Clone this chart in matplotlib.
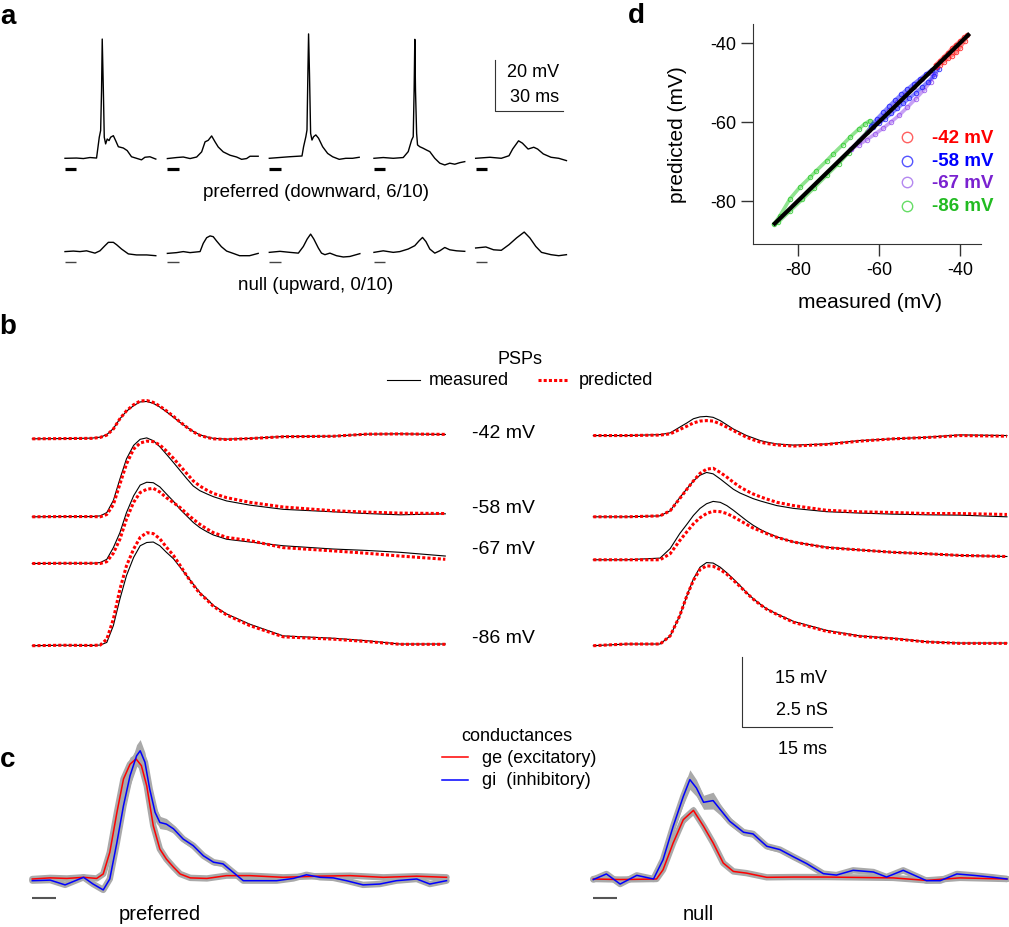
import numpy as np
import matplotlib
matplotlib.use("Agg")
import matplotlib.pyplot as plt
from matplotlib.lines import Line2D

plt.rcParams['font.family'] = ['Liberation Sans', 'DejaVu Sans']
plt.rcParams['axes.unicode_minus'] = False

W, H = 1009, 928

# ---- panel a: single trials (time in ms, Vm in mV relative to baseline)
pref1_t = [0, 5.1, 8.1, 11.0, 13.9, 15.1, 15.7, 16.1, 16.4, 16.9, 17.3, 17.9, 18.6, 19.4, 20.1, 21.3, 22.3, 23.5, 25.7, 27.4, 29.3, 31.5, 33.7, 35.2, 37.4, 40.0]
pref1_mv = [0, 0.1, -0.1, 0.3, 0.1, 8.2, 10.8, 26.3, 46.4, 26.3, 8.2, 5.6, 7.5, 6.9, 8.2, 8.8, 6.9, 4.5, 4.0, 3.0, 0.6, 0.0, -0.6, 0.4, 0.6, -0.3]
pref2_t = [0, 4.1, 7.0, 10.0, 12.9, 15.1, 16.6, 18.0, 19.5, 21.0, 22.4, 24.6, 27.6, 30.5, 32.7, 34.9, 36.4, 40.0]
pref2_mv = [-0.1, 0.3, 0.5, -0.1, 0.5, 2.5, 6.4, 7.0, 8.7, 6.4, 4.4, 2.5, 1.2, 0.5, -0.4, -0.1, 0.8, 0.8]
pref3_t = [0, 4.4, 8.8, 14.4, 15.1, 16.1, 16.6, 17.0, 17.3, 17.7, 18.2, 18.8, 19.5, 20.5, 21.7, 23.5, 25.7, 27.9, 30.8, 33.7, 36.7, 39.6]
pref3_mv = [0, 0.3, 0.6, 0.9, 4.5, 8.4, 11.0, 33.1, 48.4, 33.1, 9.7, 7.1, 8.4, 9.1, 7.8, 4.5, 1.9, 0.6, -0.4, 0, 0, 0.4]
pref4_t = [0, 4.1, 8.5, 12.9, 15.1, 16.6, 17.3, 17.7, 18.0, 18.3, 18.8, 19.2, 20.2, 21.7, 23.2, 24.6, 26.8, 29.0, 31.2, 33.4, 35.6, 37.8, 40.0]
pref4_mv = [0, 0.3, 0, 0.3, 2.6, 7.1, 8.4, 26.6, 46.3, 26.6, 9.7, 5.2, 4.5, 3.9, 3.2, 2.6, 0, -1.9, -2.6, -1.9, -2.3, -1.7, -1.3]
pref5_t = [0, 6.3, 11.3, 14.7, 16.3, 18.9, 20.6, 23.1, 25.6, 27.3, 29.8, 33.2, 36.6, 40.0]
pref5_mv = [0, 0.4, 0, 1.0, 3.6, 6.8, 5.9, 3.6, 4.3, 3.6, 1.7, 0.4, 0, -0.9]

null1_t = [0, 3.7, 6.6, 9.5, 13.2, 15.4, 17.6, 19.1, 21.3, 22.7, 24.9, 27.9, 31.5, 36.0, 40.0]
null1_mv = [0.3, 0.5, 0.3, 0.6, -0.3, 0.6, 2.6, 3.9, 3.9, 3.0, 1.3, -0.6, -1.0, -1.0, -1.3]
null2_t = [0, 4.1, 7.0, 10.0, 14.4, 15.8, 17.3, 18.8, 20.2, 21.7, 23.8, 26.1, 29.0, 31.8, 36.2, 40.0]
null2_mv = [-0.4, -0.1, 0.3, -0.1, 0.3, 3.5, 5.7, 6.4, 6.1, 4.4, 2.2, 0.5, -0.4, -1.3, -1.3, -0.4]
null3_t = [0, 4.7, 9.1, 12.8, 15.0, 16.7, 18.2, 19.6, 21.6, 23.0, 24.5, 26.7, 29.6, 32.6, 35.5, 39.9]
null3_mv = [0, 0.4, 0, -0.3, 2.3, 5.2, 7.1, 5.2, 1.7, -0.3, -0.9, -0.3, -1.3, -1.8, -1.6, -0.5]
null4_t = [0, 4.1, 8.5, 11.4, 15.1, 18.0, 19.9, 21.4, 22.9, 24.6, 26.8, 29.0, 31.2, 33.4, 36.4, 40.0]
null4_mv = [0, 0.6, 0, 0.3, 1.3, 2.6, 4.5, 5.8, 4.2, 1.3, -0.3, 0.6, 1.9, 1.0, 0.6, 0.4]
null5_t = [0, 4.5, 7.9, 11.3, 14.7, 18.0, 21.4, 23.9, 26.5, 29.0, 33.2, 36.6, 40.0]
null5_mv = [1.7, 2.1, 1.0, 0.8, 3.0, 5.6, 7.9, 5.6, 2.3, 0, -0.9, -1.3, -0.9]

stim_a_ms = 5

# ---- panel b: measured / predicted PSPs (mV relative to baseline)
holding_labels = ['-42 mV', '-58 mV', '-67 mV', '-86 mV']

tB_left = [0, 5, 10, 11.4, 12.5, 13.6, 14.7, 15.8, 17.0, 18.1, 19.2, 20.3, 21.4, 22.5, 23.7, 24.8, 25.9, 27.0, 28.1, 29.3, 30.4, 32.6, 36.5, 42.1, 50.5, 56.1, 61.7, 69.3]
L42_meas = [0, 0.05, 0.15, 0.36, 0.9, 2.2, 4.3, 5.9, 7.1, 7.9, 8.0, 7.6, 6.8, 5.8, 4.6, 3.5, 2.5, 1.6, 0.86, 0.4, 0.1, -0.07, 0.1, 0.5, 0.57, 1.0, 1.07, 0.93]
L42_pred = [0, 0.05, 0.1, 0.3, 0.8, 2.1, 4.3, 6.0, 7.3, 8.1, 8.2, 7.8, 7.0, 6.0, 4.8, 3.6, 2.5, 1.5, 0.75, 0.3, 0.0, -0.15, 0.05, 0.45, 0.55, 1.0, 1.05, 0.95]
L58_meas = [0, 0.05, 0.05, 0.2, 0.9, 3.5, 8.1, 12.4, 15.3, 16.6, 16.9, 16.3, 15.0, 13.4, 11.6, 9.9, 8.2, 6.6, 5.6, 4.9, 4.3, 3.4, 2.5, 1.6, 1.07, 0.7, 0.43, 0.64]
L58_pred = [0, 0.05, 0.05, 0.0, 0.5, 2.6, 7.0, 11.3, 14.5, 15.8, 16.2, 16.1, 15.4, 14.1, 12.5, 10.9, 9.3, 7.7, 6.6, 5.7, 5.0, 4.1, 3.1, 2.1, 1.3, 1.0, 0.8, 0.7]
L67_meas = [0, 0.05, 0.05, 0.2, 0.9, 3.4, 6.6, 10.9, 14.5, 16.8, 17.4, 17.3, 16.4, 14.9, 13.3, 11.6, 10.2, 8.8, 7.7, 6.8, 6.1, 5.2, 4.6, 3.8, 3.1, 2.8, 2.4, 1.6]
L67_pred = [0, 0.05, 0.05, 0.0, 0.4, 2.2, 5.2, 9.5, 13.1, 15.2, 15.9, 16.1, 15.3, 14.1, 13.0, 12.0, 10.7, 9.5, 8.4, 7.4, 6.6, 5.6, 4.9, 3.4, 2.7, 2.2, 1.6, 0.9]
L86_meas = [0, 0.1, 0.05, 0.14, 0.7, 4.3, 10.0, 15.0, 18.9, 21.4, 22.1, 22.2, 21.4, 20.0, 18.6, 16.8, 15.0, 13.2, 11.4, 10.0, 8.6, 6.8, 4.6, 2.1, 1.6, 1.07, 0.36, 0.36]
L86_pred = [0, 0.1, 0.05, 0.14, 1.4, 5.7, 12.1, 17.1, 20.7, 23.2, 24.2, 24.0, 22.9, 21.1, 19.3, 17.2, 15.0, 13.0, 11.2, 9.8, 8.4, 6.6, 4.3, 1.9, 1.4, 0.9, 0.3, 0.3]

tB_right = [0, 5.6, 11.2, 12.9, 14.5, 15.7, 16.8, 17.9, 19.0, 20.1, 21.3, 22.4, 23.5, 24.6, 25.7, 26.8, 28.0, 29.1, 30.8, 33.6, 39.1, 44.7, 50.3, 55.9, 61.5, 69.4]
R42_meas = [0, 0, 0.2, 0.57, 1.8, 2.7, 3.6, 4.0, 4.1, 3.9, 3.2, 2.3, 1.4, 0.7, 0.0, -0.5, -1.07, -1.4, -1.8, -2.05, -1.8, -1.07, -0.7, -0.36, 0.14, 0.0]
R42_pred = [0, 0, 0.1, 0.36, 1.3, 2.0, 2.7, 3.1, 3.2, 3.1, 2.5, 1.8, 1.07, 0.35, -0.36, -0.9, -1.4, -1.7, -2.0, -2.25, -1.9, -1.2, -0.7, -0.43, 0.0, -0.14]
R58_meas = [0, 0, 0.2, 1.3, 4.1, 6.0, 7.7, 8.9, 9.5, 9.2, 8.1, 7.0, 5.9, 5.1, 4.5, 3.9, 3.4, 3.0, 2.4, 1.8, 1.1, 0.8, 0.57, 0.43, 0.36, 0.0]
R58_pred = [0, 0, 0.2, 1.3, 3.9, 5.9, 7.7, 9.3, 10.2, 10.4, 9.5, 8.5, 7.4, 6.4, 5.6, 4.9, 4.3, 3.8, 3.1, 2.4, 1.4, 1.07, 0.93, 0.7, 0.7, 0.5]
R67_meas = [0, 0, 0.36, 2.4, 5.6, 7.6, 9.5, 11.0, 12.0, 12.5, 12.3, 11.6, 10.6, 9.5, 8.4, 7.4, 6.5, 5.8, 4.9, 3.8, 2.7, 2.1, 1.6, 1.3, 0.93, 0.7]
R67_pred = [0, 0, 0.0, 1.3, 4.1, 6.0, 7.7, 9.0, 9.9, 10.4, 10.3, 9.9, 9.2, 8.4, 7.6, 6.8, 6.2, 5.6, 4.8, 3.8, 2.6, 2.1, 1.6, 1.3, 0.93, 0.7]
R86_meas = [0, 0.36, 0.36, 2.1, 6.4, 10.7, 14.3, 16.8, 17.8, 17.7, 16.8, 15.6, 14.3, 12.9, 11.4, 10.1, 8.9, 7.9, 6.8, 5.2, 3.3, 2.1, 1.6, 0.86, 0.57, 0.57]
R86_pred = [0, 0.36, 0.36, 2.1, 6.4, 10.7, 14.0, 16.3, 17.1, 17.0, 16.3, 15.3, 14.0, 12.7, 11.3, 10.0, 8.8, 7.8, 6.7, 5.0, 3.1, 2.0, 1.5, 0.8, 0.5, 0.5]

# ---- panel c: conductances (nS) with SEM
ge_pref_t = [0, 3.0, 5.8, 8.6, 10.8, 11.9, 13.0, 14.2, 15.3, 16.4, 17.4, 18.3, 19.2, 20.3, 21.4, 22.5, 23.7, 24.8, 26.5, 29.3, 32.6, 36.5, 42.1, 47.7, 53.3, 58.9, 64.5, 69.5]
ge_pref = [0, 0.04, 0.02, 0.06, 0.02, 0.18, 0.95, 2.38, 3.57, 4.1, 4.29, 4.05, 3.33, 1.9, 1.07, 0.71, 0.42, 0.18, 0.04, 0.02, 0.12, 0.12, 0.06, 0.1, 0.12, 0.06, 0.1, 0.06]
ge_pref_sem = [0.03, 0.03, 0.03, 0.03, 0.03, 0.05, 0.12, 0.2, 0.25, 0.25, 0.22, 0.2, 0.18, 0.15, 0.12, 0.1, 0.08, 0.05, 0.03, 0.03, 0.03, 0.03, 0.03, 0.03, 0.03, 0.03, 0.03, 0.03]
gi_pref_t = [0, 3.0, 5.5, 8.6, 10.2, 11.9, 13.0, 14.2, 15.3, 16.4, 17.5, 18.1, 18.9, 19.7, 20.6, 21.4, 22.5, 23.7, 25.3, 27.0, 28.7, 30.4, 32.0, 33.7, 35.4, 38.2, 41.0, 43.8, 46.0, 48.3, 50.5, 52.7, 55.5, 58.3, 61.1, 64.5, 66.7, 69.5]
gi_pref = [-0.06, -0.04, -0.21, 0.06, -0.18, -0.39, 0.0, 1.31, 2.62, 3.69, 4.4, 4.58, 4.17, 3.21, 2.38, 2.02, 1.96, 1.79, 1.43, 1.19, 0.83, 0.6, 0.54, 0.24, -0.06, -0.06, -0.06, 0.02, 0.15, 0.06, 0.04, -0.06, -0.21, -0.18, -0.06, 0.0, -0.18, -0.06]
gi_pref_sem = [0.05, 0.05, 0.05, 0.05, 0.05, 0.05, 0.1, 0.2, 0.3, 0.35, 0.4, 0.4, 0.35, 0.3, 0.25, 0.22, 0.2, 0.15, 0.12, 0.12, 0.1, 0.1, 0.08, 0.08, 0.06, 0.05, 0.05, 0.05, 0.05, 0.05, 0.05, 0.05, 0.05, 0.05, 0.05, 0.05, 0.05, 0.05]
ge_null_t = [0, 4.5, 10.6, 11.7, 13.4, 15.1, 16.8, 18.5, 20.1, 21.8, 23.5, 25.7, 29.1, 33.6, 39.1, 50.3, 55.9, 61.5, 69.4]
ge_null = [0, -0.02, 0, 0.33, 1.29, 2.12, 2.45, 1.88, 1.29, 0.57, 0.27, 0.21, 0.06, 0.07, 0.07, 0.04, -0.05, 0.04, 0]
ge_null_sem = [0.04, 0.04, 0.04, 0.06, 0.12, 0.15, 0.15, 0.12, 0.12, 0.08, 0.06, 0.05, 0.04, 0.04, 0.04, 0.04, 0.04, 0.04, 0.04]
gi_null_t = [0, 2.2, 4.5, 7.3, 10.1, 11.7, 13.4, 15.1, 16.2, 17.3, 18.5, 20.1, 21.3, 22.9, 25.2, 26.8, 29.1, 31.3, 33.6, 35.8, 38.6, 40.8, 43.6, 47.0, 49.2, 52.0, 55.9, 58.2, 61.0, 63.8, 67.1, 69.4]
gi_null = [-0.02, 0.18, -0.18, 0.13, 0.0, 0.69, 1.88, 2.95, 3.55, 3.25, 2.74, 2.8, 2.48, 2.06, 1.67, 1.61, 1.17, 1.05, 0.79, 0.55, 0.19, 0.14, 0.31, 0.25, 0.07, 0.31, -0.06, -0.06, 0.18, 0.13, 0.06, 0.0]
gi_null_sem = [0.05, 0.05, 0.05, 0.05, 0.05, 0.1, 0.2, 0.3, 0.35, 0.3, 0.25, 0.3, 0.2, 0.15, 0.12, 0.12, 0.1, 0.1, 0.1, 0.08, 0.06, 0.06, 0.06, 0.06, 0.06, 0.06, 0.06, 0.06, 0.05, 0.05, 0.05, 0.05]
stim_c_ms = 4

# ---- panel d: predicted vs measured Vm (mV)
d_red_meas = [-46, -45, -44, -43, -42, -41, -40, -39, -38.2, -38.8, -40, -41, -42, -43, -44, -45, -46]
d_red_pred = [-45.5, -44.5, -43.5, -42.5, -41.4, -40.4, -39.5, -38.6, -38.0, -39.4, -41.2, -42.4, -43.2, -43.9, -44.8, -45.6, -46.2]
d_blue_meas = [-62, -60.5, -59, -57.5, -56, -54.5, -53, -51.5, -50, -48.5, -47, -45.8, -45.3, -46.5, -48, -49.5, -51, -52.5, -54, -55.5, -57, -58.5, -60, -61.5]
d_blue_pred = [-61, -59.2, -57.6, -56.0, -54.5, -53.0, -51.7, -50.4, -49.2, -48.0, -46.8, -46.2, -46.6, -48.3, -49.9, -51.3, -52.7, -54.0, -55.3, -56.6, -57.9, -59.2, -60.3, -61.2]
d_purple_meas = [-67, -65, -63, -61, -59, -57, -55, -53, -51, -49, -47.3, -46.3, -47.5, -49.5, -51.5, -53.5, -55.5, -57.5, -60, -62.5, -65, -67]
d_purple_pred = [-67, -65.8, -64.5, -63.1, -61.6, -60, -58.3, -56.3, -54.2, -52.0, -49.8, -48.0, -47.6, -49.2, -51.2, -53.1, -55.1, -57.1, -59.6, -62.2, -64.8, -67]
d_green_meas = [-86, -84.5, -82, -79.6, -77, -75.5, -73, -71.3, -69, -67.2, -65, -63.5, -62.3, -61.6, -63, -65, -67.5, -70, -73, -76, -79, -82, -85]
d_green_pred = [-86, -83.8, -79.5, -76.6, -74, -72.4, -69.9, -68.1, -65.8, -63.9, -61.8, -60.5, -59.7, -60.5, -62.6, -64.8, -67.8, -70.6, -73.6, -76.7, -79.7, -82.6, -85.5]
d_unity = [-85.8, -38.0]


fig = plt.figure(figsize=(W / 100, H / 100), dpi=100)


def overlay(px0, py0, sx, sy):
    # transparent axes over the whole figure; data (0, 0) sits at pixel (px0, py0)
    ax = fig.add_axes([0, 0, 1, 1])
    ax.set_xlim(-px0 / sx, (W - px0) / sx)
    ax.set_ylim(-(H - py0) / sy, py0 / sy)
    ax.axis('off')
    return ax


def ptext(x, y, s, **kw):
    kw.setdefault('va', 'center')
    fig.text(x / W, 1 - y / H, s, **kw)


def pline(x0, x1, y, **kw):
    fig.add_artist(Line2D([x0 / W, x1 / W], [1 - y / H, 1 - y / H],
                          transform=fig.transFigure, **kw))


# panel a
ax_a = overlay(65, 159.3, 2.27, 2.57)
col_ms = [0, 45.1, 90.0, 136.1, 180.9]
null_off = -36.6
pref = [(pref1_t, pref1_mv), (pref2_t, pref2_mv), (pref3_t, pref3_mv), (pref4_t, pref4_mv), (pref5_t, pref5_mv)]
null = [(null1_t, null1_mv), (null2_t, null2_mv), (null3_t, null3_mv), (null4_t, null4_mv), (null5_t, null5_mv)]
for x0, (t, v) in zip(col_ms, pref):
    ax_a.plot(np.array(t) + x0, v, color='k', lw=1.0)
    ax_a.plot([x0, x0 + stim_a_ms], [-4.2, -4.2], color='k', lw=2.3, solid_capstyle='butt')
for x0, (t, v) in zip(col_ms, null):
    ax_a.plot(np.array(t) + x0, np.array(v) + null_off, color='k', lw=1.0)
    ax_a.plot([x0, x0 + stim_a_ms], [null_off - 3.9] * 2, color='#444444', lw=1.0, solid_capstyle='butt')
ax_a.plot([189.3, 189.3, 219.3], [38.3, 18.3, 18.3], color='#333333', lw=0.8)
ptext(558.7, 72.7, '20 mV', ha='right', fontsize=13)
ptext(558.7, 97.3, '30 ms', ha='right', fontsize=13)
ptext(315.7, 192.3, 'preferred (downward, 6/10)', ha='center', fontsize=13.5)
ptext(315.7, 285.7, 'null (upward, 0/10)', ha='center', fontsize=13.5)

# panel b
ax_b = overlay(32.3, 646.7, 5.96, 4.67)
right_ms = 94.13
left_off = [44.3, 27.6, 17.6, 0]
right_off = [45.0, 27.6, 18.4, 0]
left_psp = [(L42_meas, L42_pred), (L58_meas, L58_pred), (L67_meas, L67_pred), (L86_meas, L86_pred)]
right_psp = [(R42_meas, R42_pred), (R58_meas, R58_pred), (R67_meas, R67_pred), (R86_meas, R86_pred)]
dotted = (0, (1.0, 0.7))
for (m, p), off in zip(left_psp, left_off):
    ax_b.plot(tB_left, np.array(m) + off, color='k', lw=0.8)
    ax_b.plot(tB_left, np.array(p) + off, color='red', lw=2.2, ls=dotted)
for (m, p), off in zip(right_psp, right_off):
    ax_b.plot(np.array(tB_right) + right_ms, np.array(m) + off, color='k', lw=0.8)
    ax_b.plot(np.array(tB_right) + right_ms, np.array(p) + off, color='red', lw=2.2, ls=dotted)
# scale bar 15 ms / 15 mV (2.5 nS)
ax_b.plot([119.1, 119.1, 134.1], [-2.5, -17.5, -17.5], color='#333333', lw=0.8)
for lab, y in zip(holding_labels, [433.3, 508.3, 549.3, 638.3]):
    ptext(471.7, y, lab, ha='left', fontsize=14)
ptext(519.6, 360, 'PSPs', ha='center', fontsize=13)
pline(387, 420, 381, color='k', lw=0.8)
ptext(428.4, 381, 'measured', ha='left', fontsize=13)
pline(537.5, 568.3, 381, color='red', lw=2.2, ls=dotted)
ptext(578.3, 381, 'predicted', ha='left', fontsize=13)
ptext(826.7, 678.3, '15 mV', ha='right', fontsize=13)
ptext(828.3, 710.7, '2.5 nS', ha='right', fontsize=13)
ptext(826.7, 749.3, '15 ms', ha='right', fontsize=13)

# panel c
ax_c = overlay(32.3, 880, 5.96, 28)
cond = [(ge_pref_t, ge_pref, ge_pref_sem, 'red', 0), (gi_pref_t, gi_pref, gi_pref_sem, 'blue', 0),
        (ge_null_t, ge_null, ge_null_sem, 'red', right_ms), (gi_null_t, gi_null, gi_null_sem, 'blue', right_ms)]
for t, g, s, c, x0 in cond:
    t = np.array(t) + x0
    g = np.array(g)
    s = np.array(s)
    ax_c.fill_between(t, g - s, g + s, color='#a9a9a9', lw=0)
    ax_c.plot(t, g, color='#a9a9a9', lw=4.6, solid_capstyle='round', solid_joinstyle='round')
for t, g, s, c, x0 in cond:
    ax_c.plot(np.array(t) + x0, g, color=c, lw=1.1)
for x0 in [0, right_ms]:
    ax_c.plot([x0, x0 + stim_c_ms], [-0.68, -0.68], color='#555555', lw=1.5, solid_capstyle='butt')
ptext(461.7, 736.7, 'conductances', ha='left', fontsize=13)
pline(441.7, 468, 758.3, color='red', lw=1.1)
pline(441.7, 468, 781, color='blue', lw=1.1)
ptext(481.7, 758.3, 'ge (excitatory)', ha='left', fontsize=13)
ptext(481.7, 781, 'gi  (inhibitory)', ha='left', fontsize=13)
ptext(160, 915, 'preferred', ha='center', fontsize=14.5)
ptext(698.3, 915, 'null', ha='center', fontsize=14.5)

# panel d
ax_d = fig.add_axes([753.3 / W, 1 - 245 / H, (980.7 - 753.3) / W, 220 / H])
loops = [(d_green_meas, d_green_pred, '#33cc33'), (d_purple_meas, d_purple_pred, '#9955ee'),
         (d_blue_meas, d_blue_pred, '#2222ff'), (d_red_meas, d_red_pred, '#ff2020')]
for m, p, c in loops:
    ax_d.plot(m, p, '-', color=c, lw=2.6, alpha=0.55, solid_joinstyle='round')
    ax_d.plot(m, p, 'o', color=c, mfc='none', ms=3.2, mew=0.7, alpha=0.85)
ax_d.plot(d_unity, d_unity, color='k', lw=3)
ax_d.set_xlim(-91.1, -34.9)
ax_d.set_ylim(-91.0, -35.2)
ax_d.set_xticks([-80, -60, -40])
ax_d.set_yticks([-80, -60, -40])
ax_d.spines[['top', 'right']].set_visible(False)
for sp in ['left', 'bottom']:
    ax_d.spines[sp].set_color('#333333')
ax_d.tick_params(direction='out', length=8.5, width=1, color='#333333', labelsize=13, pad=4)
ax_d.set_xlabel('measured (mV)', fontsize=15)
ax_d.set_ylabel('predicted (mV)', fontsize=15)
ax_d.xaxis.set_label_coords(0.513, -0.217)
ax_d.yaxis.set_label_coords(-0.29, 0.5)
leg_cols = [('#ff6060', 'red', '-42 mV'), ('#5555ff', 'blue', '-58 mV'),
            ('#b488f0', '#7a22d0', '-67 mV'), ('#66dd66', '#22bb22', '-86 mV')]
for (mc, tc, lab), y in zip(leg_cols, [138.3, 161.7, 183.3, 206.7]):
    fig.add_artist(Line2D([906.7 / W], [1 - y / H], transform=fig.transFigure, marker='o',
                          ms=7.5, mfc='none', mec=mc, mew=1.0, ls='none'))
    ptext(931.7, y, lab, ha='left', fontsize=13.5, fontweight='bold', color=tc)

# panel letters
ptext(7.5, 17, 'a', ha='center', fontsize=20, fontweight='bold')
ptext(8, 327, 'b', ha='center', fontsize=20, fontweight='bold')
ptext(7.5, 760, 'c', ha='center', fontsize=20, fontweight='bold')
ptext(636.5, 16, 'd', ha='center', fontsize=20, fontweight='bold')

fig.savefig('out.png', dpi=100)
